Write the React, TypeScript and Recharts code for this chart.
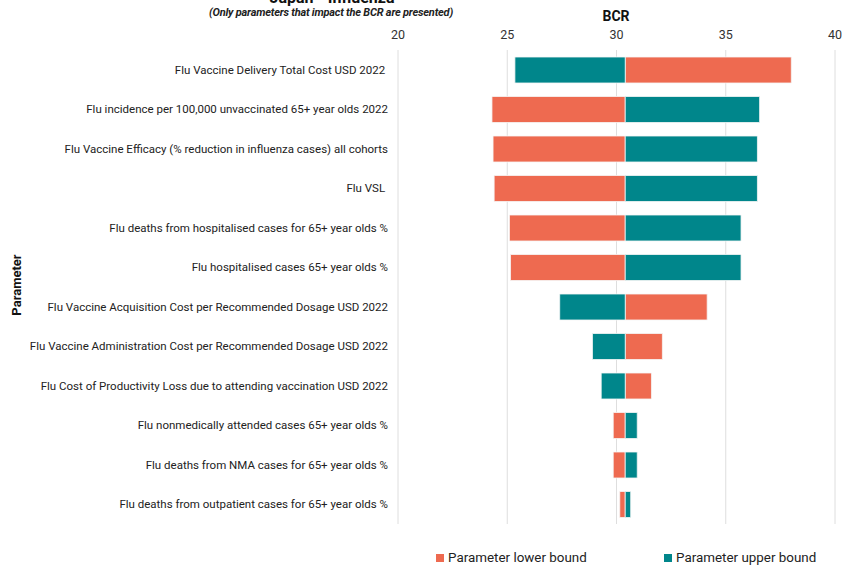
import React from "react";
import { BarChart, Bar, XAxis, YAxis, CartesianGrid, Legend } from "recharts";

const parameters = [
  "Flu Vaccine Delivery Total Cost USD 2022 ",
  "Flu incidence per 100,000 unvaccinated 65+ year olds 2022",
  "Flu Vaccine Efficacy (% reduction in influenza cases) all cohorts",
  "Flu VSL ",
  "Flu deaths from hospitalised cases for 65+ year olds %",
  "Flu hospitalised cases 65+ year olds %",
  "Flu Vaccine Acquisition Cost per Recommended Dosage USD 2022",
  "Flu Vaccine Administration Cost per Recommended Dosage USD 2022",
  "Flu Cost of Productivity Loss due to attending vaccination USD 2022",
  "Flu nonmedically attended cases 65+ year olds %",
  "Flu deaths from NMA cases for 65+ year olds %",
  "Flu deaths from outpatient cases for 65+ year olds %",
];

const baseBCR = 30.4;
const lowerBoundBCR = [38.0, 24.3, 24.35, 24.4, 25.1, 25.15, 34.15, 32.1, 31.6, 29.85, 29.85, 30.15];
const upperBoundBCR = [25.35, 36.55, 36.45, 36.45, 35.7, 35.7, 27.4, 28.9, 29.3, 30.95, 30.95, 30.65];
const xTicks = [20, 25, 30, 35, 40];

const ORANGE = "#EE6A50";
const TEAL = "#00868B";

const data = parameters.map((p, i) => ({
  name: p,
  lower: [Math.min(baseBCR, lowerBoundBCR[i]), Math.max(baseBCR, lowerBoundBCR[i])],
  upper: [Math.min(baseBCR, upperBoundBCR[i]), Math.max(baseBCR, upperBoundBCR[i])],
}));

const FONT = "Roboto, 'Noto Sans', sans-serif";

const ParamTick = (props: any) => {
  const { x, y, payload } = props;
  return (
    <text x={x} y={y} dy={4} textAnchor="end" fontFamily={FONT} fontSize={11.5} fill="#222" style={{ whiteSpace: "pre" }}>
      {payload.value}
    </text>
  );
};

const LegendContent = () => (
  <div style={{ position: "relative", height: 20, fontFamily: FONT, fontSize: 13.4, color: "#222" }}>
    <div style={{ position: "absolute", left: 436, top: 0, display: "flex", alignItems: "center" }}>
      <span style={{ width: 8, height: 8, background: ORANGE, display: "inline-block", marginRight: 4 }} />
      <span>Parameter lower bound</span>
    </div>
    <div style={{ position: "absolute", left: 664, top: 0, display: "flex", alignItems: "center" }}>
      <span style={{ width: 8, height: 8, background: TEAL, display: "inline-block", marginRight: 4 }} />
      <span>Parameter upper bound</span>
    </div>
  </div>
);

export default function App() {
  return (
    <div style={{ position: "absolute", left: 0, top: 0, width: 843, height: 572, background: "#fff", overflow: "hidden" }}>
      <div style={{ position: "absolute", left: 0, top: -12, width: 664, textAlign: "center", fontFamily: FONT, fontWeight: 700, fontSize: 16, color: "#111" }}>
        Japan - Influenza
      </div>
      <div style={{ position: "absolute", left: 0, top: 6, width: 662, textAlign: "center", fontFamily: FONT, fontWeight: 700, fontStyle: "italic", fontSize: 11, color: "#222", letterSpacing: -0.2 }}>
        (Only parameters that impact the BCR are presented)
      </div>
      <div style={{ position: "absolute", left: 566, top: 8, width: 100, textAlign: "center", fontFamily: FONT, fontWeight: 700, fontSize: 14, color: "#111" }}>
        BCR
      </div>
      <div style={{ position: "absolute", left: 16, top: 285, transform: "translate(-50%, -50%) rotate(-90deg)", fontFamily: FONT, fontWeight: 700, fontSize: 13, color: "#111", whiteSpace: "nowrap" }}>
        Parameter
      </div>
      <BarChart
        width={843}
        height={572}
        data={data}
        layout="vertical"
        margin={{ top: 0, right: 8, bottom: 28, left: 0 }}
      >
        <CartesianGrid horizontal={false} vertical={true} stroke="#dedede" />
        <XAxis
          type="number"
          orientation="top"
          domain={[20, 40]}
          ticks={xTicks}
          axisLine={false}
          tickLine={false}
          height={50}
          tickMargin={5}
          tick={{ fontFamily: FONT, fontSize: 12.5, fill: "#333" }}
          allowDataOverflow
        />
        <YAxis
          yAxisId="a"
          type="category"
          dataKey="name"
          width={398}
          axisLine={false}
          tickLine={false}
          tickMargin={4}
          interval={0}
          tick={<ParamTick />}
        />
        <YAxis yAxisId="b" type="category" dataKey="name" hide />
        <Legend verticalAlign="bottom" content={<LegendContent />} wrapperStyle={{ left: 0, bottom: 2, width: 843 }} />
        <Bar yAxisId="a" dataKey="lower" name="Parameter lower bound" fill={ORANGE} barSize={26} stroke="#f6f6f6" strokeWidth={0.8} isAnimationActive={false} />
        <Bar yAxisId="b" dataKey="upper" name="Parameter upper bound" fill={TEAL} barSize={26} stroke="#f6f6f6" strokeWidth={0.8} isAnimationActive={false} />
      </BarChart>
    </div>
  );
}
